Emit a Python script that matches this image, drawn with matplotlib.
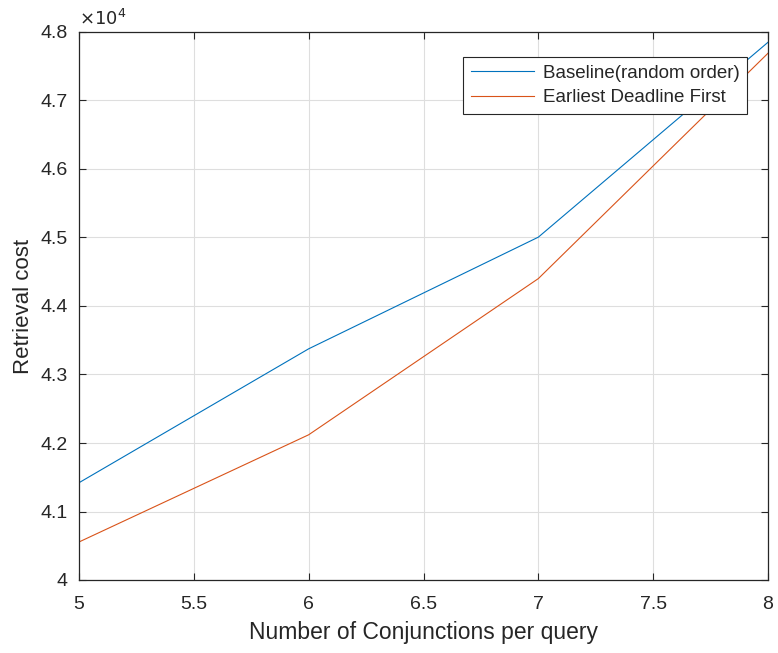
import matplotlib
matplotlib.use('Agg')
import matplotlib.pyplot as plt
from matplotlib.ticker import FuncFormatter

# conjunctions per query
conj = [5, 6, 7, 8]
# retrieval cost
baseline = [41420, 43375, 45005, 47850]
edf = [40555, 42120, 44400, 47690]
labels = ['Baseline(random order)', 'Earliest Deadline First']

plt.rcParams['font.family'] = ['Liberation Sans', 'DejaVu Sans']
dark = '#262626'

fig = plt.figure(figsize=(7.78, 6.53), dpi=100)
ax = fig.add_axes([79/778, 1 - 580/653, (768 - 79)/778, (580 - 32)/653])

ax.plot(conj, baseline, color='#0072BD', lw=0.8, label=labels[0])
ax.plot(conj, edf, color='#D95319', lw=0.8, label=labels[1])

ax.set_xlim(5, 8)
ax.set_ylim(40000, 48000)
ax.set_xticks([5, 5.5, 6, 6.5, 7, 7.5, 8])
ax.set_yticks([40000 + 1000*i for i in range(9)])
ax.xaxis.set_major_formatter(FuncFormatter(lambda v, p: '%g' % v))
ax.yaxis.set_major_formatter(FuncFormatter(lambda v, p: '%g' % (v/1e4)))
ax.grid(True, color='#dedede', lw=0.8)
ax.tick_params(direction='in', top=True, right=True, length=5, width=0.8,
               colors=dark, labelsize=14)
ax.tick_params(axis='x', pad=11.5)
ax.tick_params(axis='y', pad=8)
for s in ax.spines.values():
    s.set_color(dark)
    s.set_linewidth(0.9)

ax.set_xlabel('Number of Conjunctions per query', fontsize=16.5, color=dark, labelpad=6)
ax.set_ylabel('Retrieval cost', fontsize=16, color=dark, labelpad=5)
ax.text(0.0, 1.006, r'$\times 10^4$', transform=ax.transAxes, fontsize=13,
        color=dark, ha='left', va='bottom')

leg = ax.legend(loc='upper right', bbox_to_anchor=(747/778, 1 - 57/653),
                bbox_transform=fig.transFigure, fontsize=13.5, fancybox=False,
                framealpha=1, edgecolor=dark, borderpad=0.4, handlelength=3.4,
                handletextpad=0.45, labelspacing=0.4, borderaxespad=0)
leg.get_frame().set_linewidth(0.8)
for t in leg.get_texts():
    t.set_color(dark)

fig.savefig('out.png', dpi=100)
